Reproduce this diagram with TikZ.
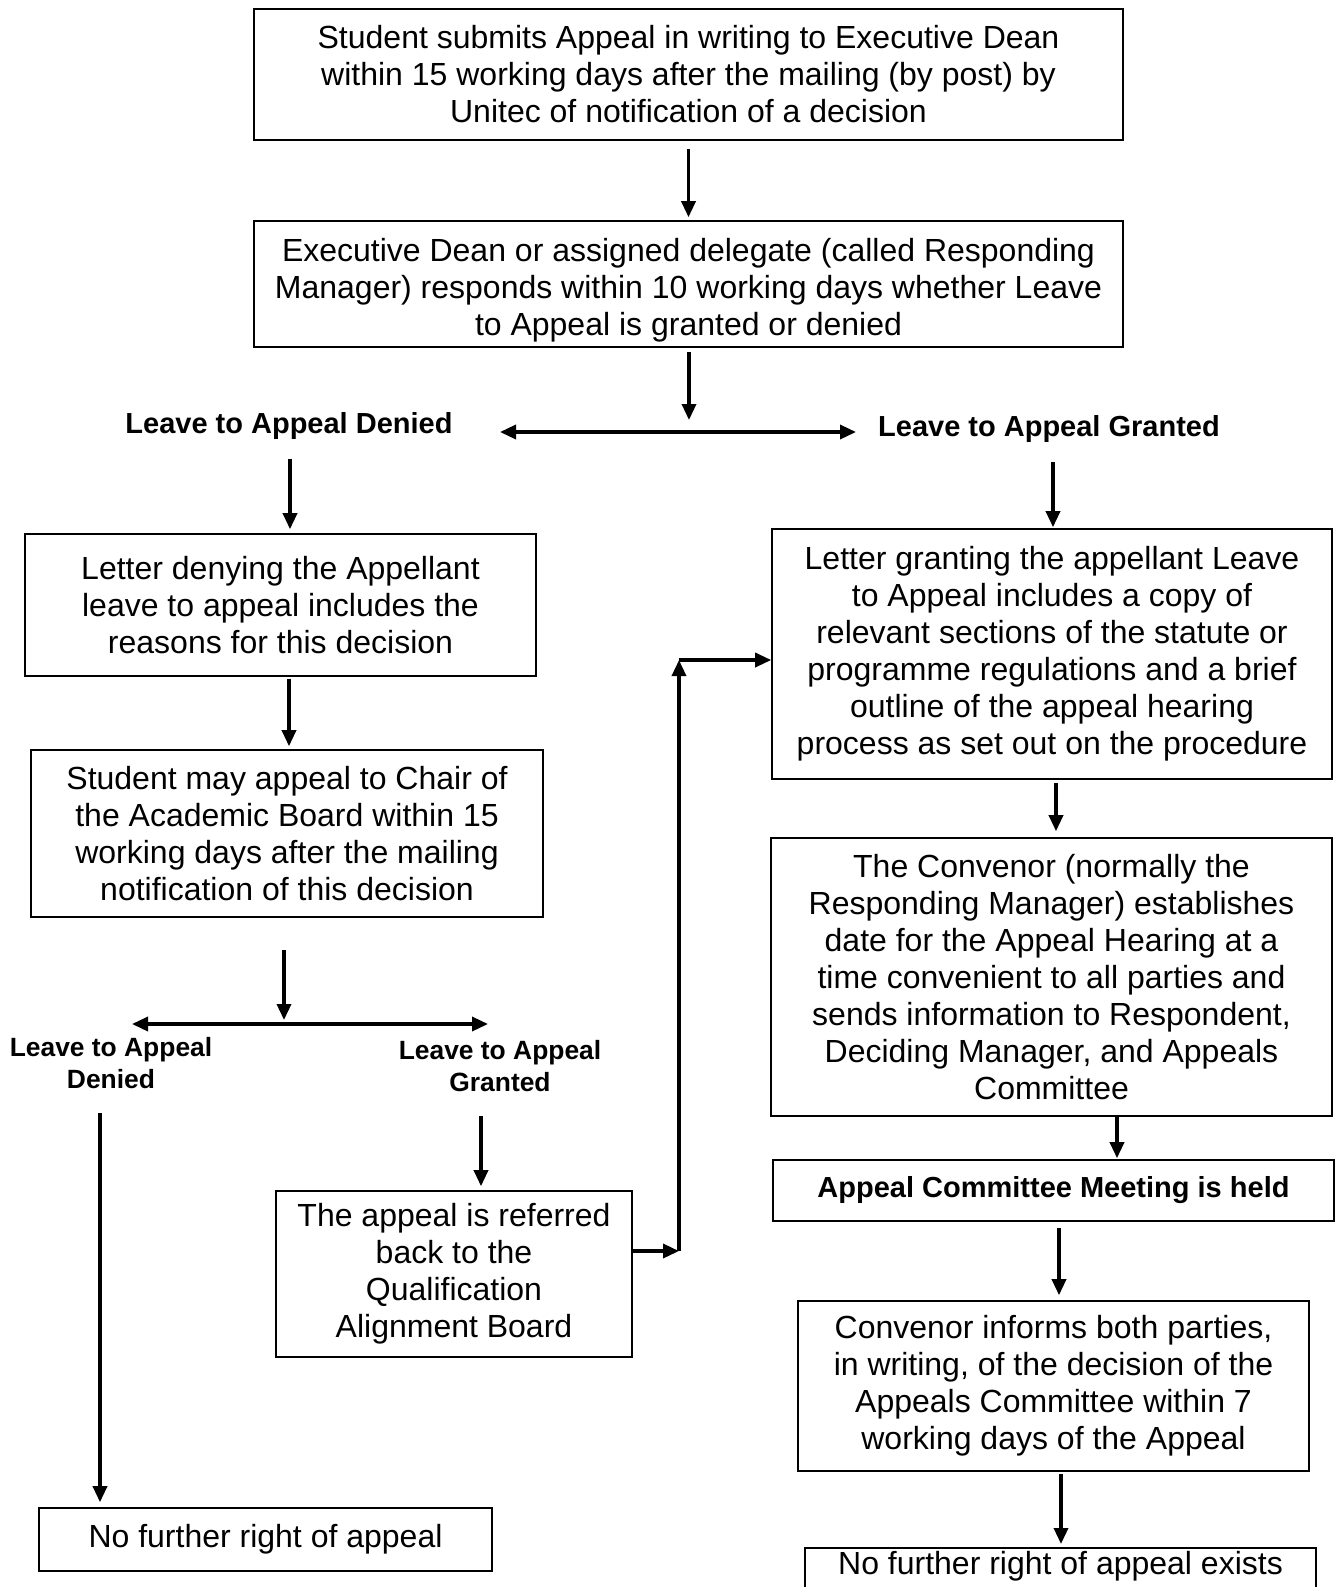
\documentclass[tikz,border=0pt]{standalone}
\usepackage{fontspec}
\setmainfont{Liberation Sans}
\usetikzlibrary{arrows.meta}

\begin{document}
\begin{tikzpicture}[->,>={Triangle[length=8pt,width=7pt]},x=0.5pt,y=-0.5pt,line width=1.7pt]
\tikzstyle{box}=[draw,line width=0.8pt,align=center,inner sep=2pt,font=\fontsize{16}{18.5}\selectfont]
\tikzstyle{lbl}=[align=center,font=\fontsize{14.5}{16.5}\selectfont\bfseries]
\tikzstyle{slbl}=[align=center,font=\fontsize{13.2}{15.7}\selectfont\bfseries]
\clip (0,0) rectangle (1335,1587);
\node[box,minimum width=434.5pt,minimum height=65.5pt] (1) at (688.5,74.5)
  {Student submits Appeal in writing to Executive Dean\\within 15 working days after the mailing (by post) by\\Unitec of notification of a decision};
\node[box,minimum width=434.5pt,minimum height=63pt] (2) at (688.5,284)
  {\rule{0pt}{17.5pt}Executive Dean or assigned delegate (called Responding\\Manager) responds within 10 working days whether Leave\\to Appeal is granted or denied};
\node[lbl] (d1) at (289,426) {Leave to Appeal Denied};
\node[lbl] (g1) at (1049,429) {Leave to Appeal Granted};
\node[box,minimum width=255.5pt,minimum height=71pt] (3) at (280.5,605)
  {Letter denying the Appellant\\leave to appeal includes the\\reasons for this decision};
\node[box,minimum width=280pt,minimum height=125pt] (4) at (1052,654)
  {Letter granting the appellant Leave\\to Appeal includes a copy of\\relevant sections of the statute or\\programme regulations and a brief\\outline of the appeal hearing\\process as set out on the procedure};
\node[box,minimum width=256pt,minimum height=83.5pt] (5) at (287,833.5)
  {Student may appeal to Chair of\\the Academic Board within 15\\working days after the mailing\\notification of this decision};
\node[box,minimum width=280.5pt,minimum height=139pt] (6) at (1051.5,977)
  {The Convenor (normally the\\Responding Manager) establishes\\date for the Appeal Hearing at a\\time convenient to all parties and\\sends information to Respondent,\\Deciding Manager, and Appeals\\Committee};
\node[slbl] (d2) at (111,1063) {Leave to Appeal\\Denied};
\node[slbl] (g2) at (500,1066) {Leave to Appeal\\Granted};
\node[box,minimum width=226.5pt,minimum height=31.5pt] (7) at (265.5,1539.5)
  {No further right of appeal};
\node[box,minimum width=178pt,minimum height=83pt] (8) at (454,1274)
  {The appeal is referred\\back to the\\Qualification\\Alignment Board};
\node[box,font=\fontsize{14.5}{16.5}\selectfont\bfseries,minimum width=280.5pt,minimum height=30.5pt] (9) at (1053.5,1190.5)
  {Appeal Committee Meeting is held};
\node[box,anchor=north,minimum width=255.5pt,text height=11.5pt,text depth=40pt] (11) at (1060.5,1547)
  {No further right of appeal exists};
\node[box,minimum width=255.5pt,minimum height=85pt] (10) at (1053.5,1386)
  {Convenor informs both parties,\\in writing, of the decision of the\\Appeals Committee within 7\\working days of the Appeal};

\coordinate (s1) at (689,432);
\coordinate (s2) at (284,1024);
\coordinate (t1) at (679,1251);
\coordinate (t2) at (679,660);

\draw[shorten <=4pt,shorten >=1.5pt] (1) -- (2);
\draw[shorten <=2pt,shorten >=6pt] (2.south -| s1) -- (s1);
\draw[<->] (500,432) -- (856,432);
\draw[shorten <=5.5pt,shorten >=2pt] ([xshift=0.5pt]d1.south) -- ([xshift=0.5pt]d1.south |- 3.north);
\draw[shorten <=5.5pt,shorten >=0.5pt] ([xshift=2pt]g1.south) -- ([xshift=2pt]g1.south |- 4.north);
\draw[shorten <=1pt,shorten >=1.5pt] (d1 |- 3.south) -- (d1 |- 5.north);
\draw[shorten <=16pt,shorten >=2pt] (5.south -| s2) -- (s2);
\draw[<->] (132,1024) -- (488,1024);
\draw[shorten <=8pt,shorten >=2.5pt] ([xshift=-5.5pt]d2.south) -- ([xshift=-5.5pt]d2.south |- 7.north);
\draw[shorten <=8pt,shorten >=2pt] ([xshift=-9.5pt]g2.south) -- ([xshift=-9.5pt]g2.south |- 8.north);
\draw (8.east |- t1) -- (t1);
\draw (t1) -- (t2);
\draw (t2) -- (t2 -| 4.west);
\draw[shorten <=1.5pt,shorten >=3pt] ([xshift=2pt]4.south) -- ([xshift=2pt]4.south |- 6.north);
\draw[shorten >=0.5pt] ([xshift=32.75pt]6.south) -- ([xshift=32.75pt]6.south |- 9.north);
\draw[shorten <=3pt,shorten >=2.5pt] ([xshift=2.75pt]9.south) -- ([xshift=2.75pt]9.south |- 10.north);
\draw[shorten <=1pt,shorten >=1.5pt] ([xshift=3.75pt]10.south) -- ([xshift=3.75pt]10.south |- 11.north);
\end{tikzpicture}
\end{document}
